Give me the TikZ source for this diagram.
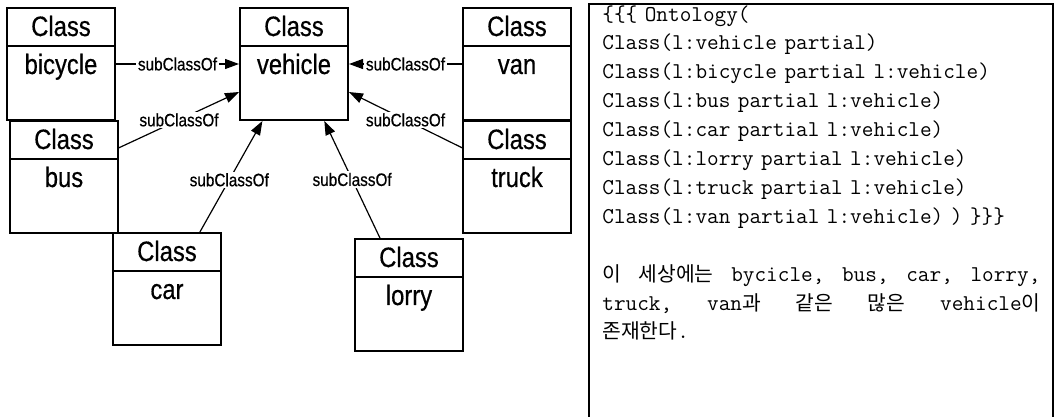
\documentclass[tikz,border=0pt]{standalone}
\usepackage{fontspec}
\newfontfamily\umlfont{Liberation Sans}[FakeStretch=0.85,FakeBold=0.5]
\newfontfamily\krfont{Noto Sans CJK KR}[Scale=0.9]
\usetikzlibrary{arrows.meta,shapes.multipart}

\newcommand{\headstrut}{\rule[-4.5pt]{0pt}{18pt}}
\newcommand{\bodystrut}{\rule[-22.5pt]{0pt}{36pt}}

\begin{document}
\begin{tikzpicture}[
    x=0.5pt, y=-0.5pt,
    classbox/.style={draw, line width=1pt, rectangle split, rectangle split parts=2,
        text width=54pt, align=center, inner sep=0pt, font=\umlfont\fontsize{14}{14}\selectfont},
    subarrow/.style={-{Triangle[length=7pt,width=5pt]}, line width=0.6pt},
    relname/.style={fill=white, inner sep=0.8pt, font=\umlfont\fontsize{9}{9}\selectfont},
    listing/.style={anchor=north west, inner sep=0pt, text width=222pt, align=left,
        font=\ttfamily\fontsize{11.3}{14.45}\selectfont},
]
    \useasboundingbox (0,0) rectangle (1056,417);

    \node[classbox] (bicycle) at (61,64) {\headstrut Class\nodepart{two}\bodystrut bicycle};
    \node[classbox] (vehicle) at (294,64) {\headstrut Class\nodepart{two}\bodystrut vehicle};
    \node[classbox] (van) at (517,64) {\headstrut Class\nodepart{two}\bodystrut van};
    \node[classbox] (bus) at (64,177) {\headstrut Class\nodepart{two}\bodystrut bus};
    \node[classbox] (truck) at (517,177) {\headstrut Class\nodepart{two}\bodystrut truck};
    \node[classbox] (car) at (167,289) {\headstrut Class\nodepart{two}\bodystrut car};
    \node[classbox] (lorry) at (409,295) {\headstrut Class\nodepart{two}\bodystrut lorry};

    \draw[subarrow] (bicycle.east) -- node[relname] {subClassOf} (vehicle.west);
    \draw[subarrow] (van.west) -- node[relname] {subClassOf} (vehicle.east);
    \draw[subarrow] (bus.28) -- node[relname] {subClassOf} (vehicle.207);
    \draw[subarrow] (truck.152) -- node[relname] {subClassOf} (vehicle.333);
    \draw[subarrow] (car.60) -- node[relname, pos=0.47] {subClassOf} (vehicle.241);
    \draw[subarrow] (lorry.117) -- node[relname] {subClassOf} (vehicle.298);

    \draw[line width=0.7pt] (589,417) |- (1053,4) -- (1053,417);
    \node[listing] (ontology) at (602,5) {\{\{\{ Ontology(\\
        Class(l:vehicle partial)\\
        Class(l:bicycle partial l:vehicle)\\
        Class(l:bus partial l:vehicle)\\
        Class(l:car partial l:vehicle)\\
        Class(l:lorry partial l:vehicle)\\
        Class(l:truck partial l:vehicle)\\
        Class(l:van partial l:vehicle) ) \}\}\}\\
        \mbox{}\\
        \makebox[219pt][l]{{\krfont 이}\hfill{\krfont 세상에는}\hfill bycicle,\hfill bus,\hfill car,\hfill lorry,}\\
        \makebox[219pt][l]{truck,\hfill van{\krfont 과}\hfill{\krfont 같은}\hfill{\krfont 많은}\hfill vehicle{\krfont 이}}\\
        {\krfont 존재한다}.};
\end{tikzpicture}
\end{document}
